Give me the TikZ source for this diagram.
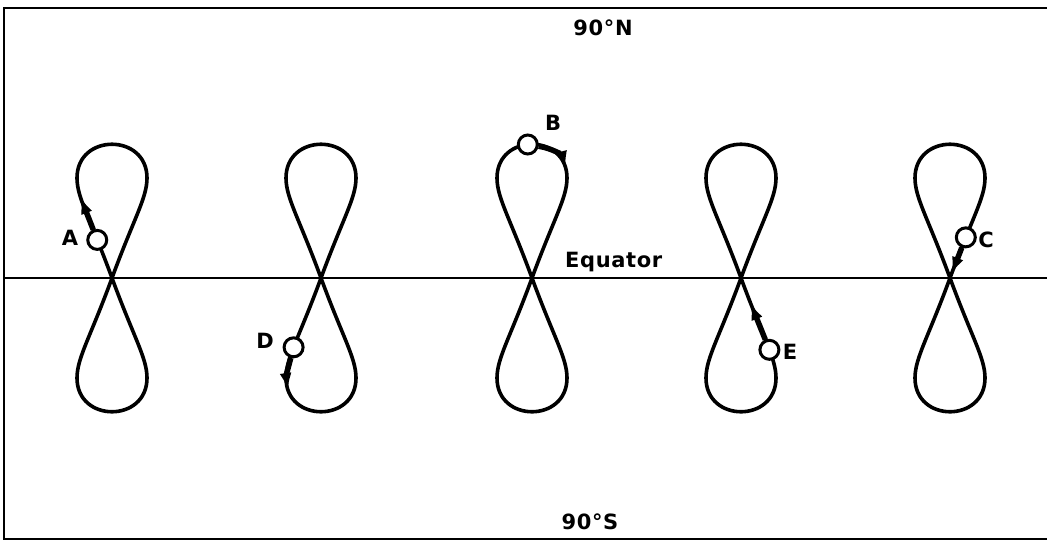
\documentclass[tikz,border=0pt]{standalone}
\usepackage{fontspec}
\setmainfont{DejaVu Sans}
\newfontfamily\labfont[LetterSpace=3]{DejaVu Sans}
\usetikzlibrary{arrows.meta}
\begin{document}
\begin{tikzpicture}[x=1pt,y=-1pt,
  loopline/.style={line width=3.6pt, line join=round},
  marker/.style={circle, draw, line width=3pt, fill=white, minimum size=19pt, inner sep=0pt},
  motion/.style={line width=5.5pt, -{Latex[length=17pt,width=12pt]}},
  lbl/.style={font=\labfont\bfseries\fontsize{21}{25}\selectfont, inner sep=0pt},
]
\useasboundingbox (0,0) rectangle (1047,547);
% frame
\draw[line width=2.6pt] (1047,8) -- (4,8) -- (4,539) -- (1047,539);
% equator
\coordinate (eqL) at (4,278);
\coordinate (eqR) at (1047,278);
\draw[line width=2.4pt] (eqL) -- (eqR);
% figure eights
\foreach \cx in {112,321,532,741,950}{
  \begin{scope}[shift={(\cx,278)}]
    \draw[loopline] (0,0) .. controls (-22,-60) and (-35,-80) .. (-35,-100)
      .. controls (-35,-145) and (35,-145) .. (35,-100)
      .. controls (35,-80) and (22,-60) .. (0,0)
      .. controls (-22,60) and (-35,80) .. (-35,100)
      .. controls (-35,145) and (35,145) .. (35,100)
      .. controls (35,80) and (22,60) .. (0,0);
  \end{scope}
}
% A
\begin{scope}[shift={(112,278)}]
  \node[marker] (nA) at (-14.75,-38.1) {};
  \coordinate (tA) at (-31.6,-81);
  \draw[motion] (nA) -- (tA);
  \node[lbl] (lA) at (-42,-40) {A};
\end{scope}
% D
\begin{scope}[shift={(321,278)}]
  \node[marker] (nD) at (-27.4,69.3) {};
  \coordinate (tD) at (-33,112);
  \draw[motion] (nD) .. controls (-35,98) .. (tD);
  \node[lbl] (lD) at (-56,63) {D};
\end{scope}
% B
\begin{scope}[shift={(532,278)}]
  \node[marker] (nB) at (-4.2,-133.5) {};
  \coordinate (tB) at (33.7,-110);
  \draw[motion] (nB) .. controls (21.15,-129.5) and (30.4,-122.1) .. (tB);
  \node[lbl] (lB) at (21,-155) {B};
\end{scope}
% E
\begin{scope}[shift={(741,278)}]
  \node[marker] (nE) at (28.4,71.8) {};
  \coordinate (tE) at (9.5,25);
  \draw[motion] (nE) -- (tE);
  \node[lbl] (lE) at (49,74) {E};
\end{scope}
% C
\begin{scope}[shift={(950,278)}]
  \node[marker] (nC) at (15.8,-40.65) {};
  \coordinate (tC) at (1.5,-4);
  \draw[motion] (nC) -- (tC);
  \node[lbl] (lC) at (36,-38) {C};
\end{scope}
% texts
\node[lbl, anchor=base west] (eq) at (565,267) {Equator};
\node[lbl] (north) at (603,28) {90°N};
\node[lbl] (south) at (590,522) {90°S};
\end{tikzpicture}
\end{document}
